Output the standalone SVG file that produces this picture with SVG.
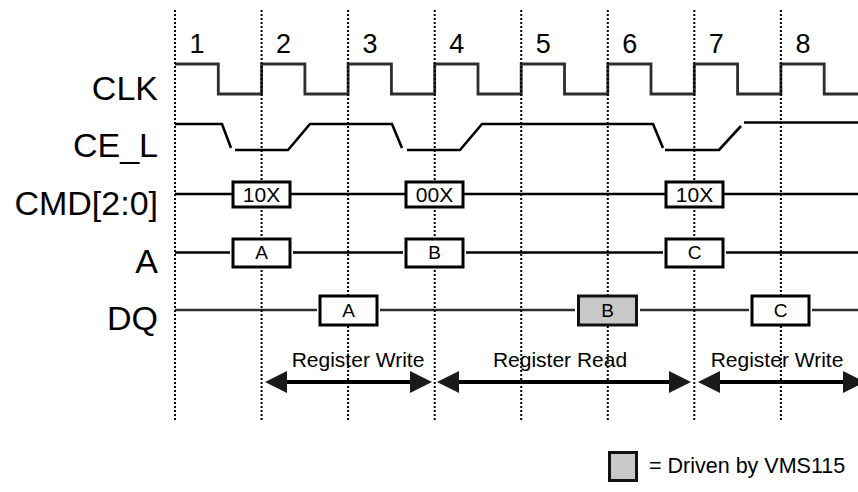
<svg xmlns="http://www.w3.org/2000/svg" width="858" height="492" viewBox="0 0 858 492">
<style>
  text { font-family: "Liberation Sans", Arial, sans-serif; fill: #000; }
  .lbl { font-size: 34px; text-anchor: end; }
  .num { font-size: 27px; text-anchor: middle; }
  .btx { font-size: 19px; text-anchor: middle; }
  .ctx { font-size: 21px; text-anchor: middle; }
  .phase { font-size: 21px; text-anchor: middle; }
  .grid { stroke: #000; stroke-width: 2; stroke-dasharray: 2 2; fill: none; }
  .clk { stroke: #2e2e2e; stroke-width: 2.8; fill: none; }
  .sig { stroke: #000; stroke-width: 2.6; fill: none; }
  .dq { stroke: #2e2e2e; stroke-width: 2.6; fill: none; }
  .box { fill: #fff; stroke: #000; stroke-width: 3; }
  .shade { fill: #c8c8c8; stroke: #111; stroke-width: 3; }
  .arr { stroke: #000; stroke-width: 4; fill: none; marker-start: url(#head); marker-end: url(#head); }
</style>
<defs>
  <marker id="head" markerUnits="userSpaceOnUse" markerWidth="23" markerHeight="24" refX="0" refY="11" orient="auto-start-reverse" viewBox="0 0 23 24">
    <path d="M0,0 L22,11 L0,22 z" fill="#1a1a1a"/>
  </marker>
</defs>
<rect width="858" height="492" fill="#fff"/>

<g id="signal-labels">
  <text class="lbl" x="158" y="100">CLK</text>
  <text class="lbl" x="158" y="157">CE_L</text>
  <text class="lbl" x="158" y="215">CMD[2:0]</text>
  <text class="lbl" x="158" y="273">A</text>
  <text class="lbl" x="158" y="330">DQ</text>
</g>

<g id="cycle-numbers">
  <text class="num" x="197" y="53">1</text>
  <text class="num" x="283.6" y="53">2</text>
  <text class="num" x="370.1" y="53">3</text>
  <text class="num" x="456.7" y="53">4</text>
  <text class="num" x="543.2" y="53">5</text>
  <text class="num" x="629.8" y="53">6</text>
  <text class="num" x="716.3" y="53">7</text>
  <text class="num" x="802.9" y="53">8</text>
</g>

<g id="waveforms">
  <path id="clk-wave" class="clk" d="M175,64 H218.3 V94 H261.6 V64 H304.9 V94 H348.1 V64 H391.4 V94 H434.7 V64 H478 V94 H521.2 V64 H564.5 V94 H607.8 V64 H651 V94 H694.3 V64 H737.6 V94 H780.9 V64 H824.2 V94 H858"/>
  <path id="ce-wave" class="sig" d="M175,124 H222 L231,148 M235,150 H288 L310,124 H392 L402,148 M407,150 H460 L482,124 H653 L663,148 M665,150 H719 L741,126 M744,122.5 H858"/>
  <path id="cmd-wave" class="sig" d="M175,194 H858"/>
  <path id="a-wave" class="sig" d="M175,252.5 H230 M293,252.5 H403 M466,252.5 H663 M726,252.5 H858"/>
  <path id="dq-wave" class="dq" d="M175,310 H317 M380,310 H575 M640,310 H749 M812,310 H858"/>
</g>

<g id="cycle-grid">
  <line class="grid" x1="175" y1="10" x2="175" y2="422"/>
  <line class="grid" x1="261.6" y1="10" x2="261.6" y2="422"/>
  <line class="grid" x1="348.1" y1="10" x2="348.1" y2="422"/>
  <line class="grid" x1="434.7" y1="10" x2="434.7" y2="422"/>
  <line class="grid" x1="521.2" y1="10" x2="521.2" y2="422"/>
  <line class="grid" x1="607.8" y1="10" x2="607.8" y2="422"/>
  <line class="grid" x1="694.3" y1="10" x2="694.3" y2="422"/>
  <line class="grid" x1="780.9" y1="10" x2="780.9" y2="422"/>
</g>

<g id="cmd-10x-1">
  <rect class="box" x="233" y="182" width="57" height="25"/>
  <text class="ctx" x="261.5" y="202">10X</text>
</g>
<g id="cmd-00x">
  <rect class="box" x="406" y="182" width="57" height="25"/>
  <text class="ctx" x="434.5" y="202">00X</text>
</g>
<g id="cmd-10x-2">
  <rect class="box" x="666" y="182" width="57" height="25"/>
  <text class="ctx" x="694.5" y="202">10X</text>
</g>

<g id="addr-a">
  <rect class="box" x="233" y="239" width="57" height="28"/>
  <text class="btx" x="261.5" y="259">A</text>
</g>
<g id="addr-b">
  <rect class="box" x="406" y="239" width="57" height="28"/>
  <text class="btx" x="434.5" y="259">B</text>
</g>
<g id="addr-c">
  <rect class="box" x="666" y="239" width="57" height="28"/>
  <text class="btx" x="694.5" y="259">C</text>
</g>

<g id="dq-a">
  <rect class="box" x="320" y="296" width="57" height="29"/>
  <text class="btx" x="348.5" y="317">A</text>
</g>
<g id="dq-b">
  <rect class="shade" x="578.5" y="296" width="58" height="29"/>
  <text class="btx" x="607.5" y="317" fill="#222">B</text>
</g>
<g id="dq-c">
  <rect class="box" x="752" y="296" width="57" height="29"/>
  <text class="btx" x="780.5" y="317">C</text>
</g>

<g id="connectors">
  <path class="arr" d="M287,382 H410"/>
  <path class="arr" d="M459,382 H669"/>
  <path class="arr" d="M720,382 H843"/>
</g>

<g id="phase-labels">
  <text class="phase" x="358" y="367">Register Write</text>
  <text class="phase" x="560" y="367">Register Read</text>
  <text class="phase" x="777" y="367">Register Write</text>
</g>

<g id="legend">
  <rect class="shade" x="609.5" y="452.5" width="27" height="28" stroke-width="2.5"/>
  <text x="649" y="473" font-size="21.5">= Driven by VMS115</text>
</g>
</svg>
